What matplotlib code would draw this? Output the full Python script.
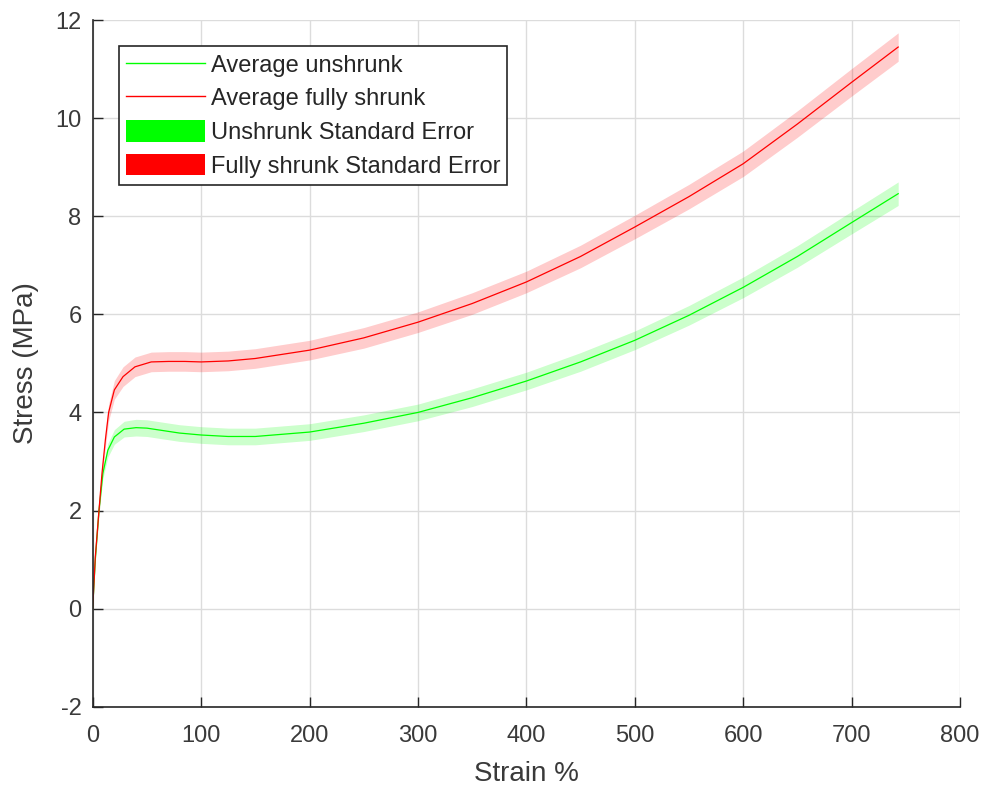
import matplotlib
matplotlib.use('Agg')
import matplotlib.pyplot as plt
from matplotlib.patches import Patch
from matplotlib.lines import Line2D

plt.rcParams['font.family'] = ['Liberation Sans', 'DejaVu Sans']
plt.rcParams['axes.unicode_minus'] = False

# strain (%) sample points, unshrunk
strain_u = [0, 2.4, 5.8, 9.4, 14, 20, 29, 40, 50, 65, 80, 100, 125, 150, 200,
            250, 300, 350, 400, 450, 500, 550, 600, 650, 700, 743]
# average stress (MPa), unshrunk
unshrunk = [0, 1.0, 2.0, 2.76, 3.23, 3.5, 3.66, 3.69, 3.68, 3.63, 3.58, 3.54,
            3.51, 3.51, 3.60, 3.78, 4.0, 4.3, 4.64, 5.03, 5.47, 5.98, 6.55,
            7.18, 7.87, 8.46]
unshrunk_se = [0, 0.05, 0.08, 0.11, 0.14, 0.15, 0.16, 0.17, 0.17, 0.17, 0.17,
               0.17, 0.17, 0.17, 0.17, 0.17, 0.17, 0.18, 0.18, 0.19, 0.19,
               0.2, 0.21, 0.22, 0.23, 0.24]

# strain (%) sample points, fully shrunk
strain_s = [0, 2.4, 5.8, 8.6, 11.7, 14.7, 20, 28, 39, 54, 70, 85, 100, 125,
            150, 200, 250, 300, 350, 400, 450, 500, 550, 600, 650, 700, 743]
# average stress (MPa), fully shrunk
shrunk = [0, 1.05, 2.0, 2.76, 3.44, 4.0, 4.46, 4.73, 4.93, 5.03, 5.04, 5.04,
          5.03, 5.05, 5.10, 5.27, 5.52, 5.84, 6.22, 6.66, 7.18, 7.78, 8.40,
          9.07, 9.88, 10.73, 11.45]
shrunk_se = [0, 0.06, 0.1, 0.13, 0.15, 0.17, 0.19, 0.2, 0.2, 0.2, 0.2, 0.2,
             0.2, 0.2, 0.2, 0.2, 0.21, 0.21, 0.22, 0.22, 0.23, 0.24, 0.25,
             0.26, 0.27, 0.28, 0.29]

fig = plt.figure(figsize=(9.86, 7.87), dpi=100)
ax = fig.add_axes([0.094, 0.102, 0.8796, 0.8725])

lo_u = [m - s for m, s in zip(unshrunk, unshrunk_se)]
hi_u = [m + s for m, s in zip(unshrunk, unshrunk_se)]
lo_s = [m - s for m, s in zip(shrunk, shrunk_se)]
hi_s = [m + s for m, s in zip(shrunk, shrunk_se)]

ax.fill_between(strain_u, lo_u, hi_u, color=(0, 1, 0), alpha=0.2, linewidth=0)
ax.fill_between(strain_s, lo_s, hi_s, color=(1, 0, 0), alpha=0.2, linewidth=0)
ax.plot(strain_u, unshrunk, color=(0, 1, 0), linewidth=0.9)
ax.plot(strain_s, shrunk, color=(1, 0, 0), linewidth=0.9)

ax.set_xlim(0, 800)
ax.set_ylim(-2, 12)
ax.set_xticks(range(0, 801, 100))
ax.set_yticks(range(-2, 13, 2))
ax.grid(True, color='#dcdcdc', linewidth=1)
ax.set_axisbelow(True)

for side in ['top', 'right']:
    ax.spines[side].set_visible(False)
for side in ['left', 'bottom']:
    ax.spines[side].set_color('#262626')
    ax.spines[side].set_linewidth(1.2)
ax.tick_params(direction='in', length=7, width=1, colors='#262626',
               labelsize=17, pad=8)
ax.tick_params(axis='x', pad=13)
for lbl in ax.get_xticklabels() + ax.get_yticklabels():
    lbl.set_color('#3a3a3a')

ax.set_xlabel('Strain %', fontsize=20, color='#3a3a3a', labelpad=10)
ax.set_ylabel('Stress (MPa)', fontsize=20, color='#3a3a3a', labelpad=12)

handles = [
    Line2D([], [], color=(0, 1, 0), linewidth=1),
    Line2D([], [], color=(1, 0, 0), linewidth=1),
    Patch(facecolor=(0, 1, 0), edgecolor='none'),
    Patch(facecolor=(1, 0, 0), edgecolor='none'),
]
labels = ['Average unshrunk', 'Average fully shrunk',
          'Unshrunk Standard Error', 'Fully shrunk Standard Error']
leg = ax.legend(handles, labels, loc='upper left', bbox_to_anchor=(0.030, 0.962),
                borderaxespad=0, fontsize=17, handlelength=3.35, handleheight=1.0,
                handletextpad=0.25, labelspacing=0.42, borderpad=0.3,
                fancybox=False, framealpha=1, edgecolor='#262626')
leg.get_frame().set_linewidth(1.2)
for t in leg.get_texts():
    t.set_color('#262626')

fig.savefig('out.png', dpi=100)
